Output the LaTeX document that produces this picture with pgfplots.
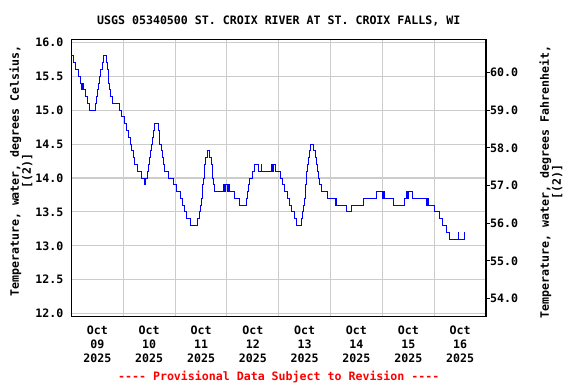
\documentclass[border=0pt]{standalone}
\usepackage{pgfplots}
\pgfplotsset{compat=1.18}
\usepackage{fontspec}
\setmainfont{DejaVu Sans Mono}[Ligatures=TeXOff]
\newcommand{\uf}{\fontsize{11.6}{12}\selectfont\bfseries}
\newcommand{\ufx}{\fontsize{11.6}{14}\selectfont\bfseries}
\begin{document}
\begin{tikzpicture}
\useasboundingbox (0pt,0pt) rectangle (576pt,384pt);
\begin{axis}[
  at={(71.5pt,67.3pt)}, anchor=south west,
  scale only axis, width=414.5pt, height=277.4pt,
  xmin=0, xmax=8, ymin=11.955, ymax=16.045,
  axis line style={line width=1.4pt},
  xtick={0.5,1.5,2.5,3.5,4.5,5.5,6.5,7.5},
  xticklabels={{Oct\\09\\2025},{Oct\\10\\2025},{Oct\\11\\2025},{Oct\\12\\2025},{Oct\\13\\2025},{Oct\\14\\2025},{Oct\\15\\2025},{Oct\\16\\2025}},
  minor xtick={1,2,3,4,5,6,7},
  xmajorgrids=false, xminorgrids=true, ymajorgrids=true,
  ytick={12,12.5,...,16},
  grid style={black!20, line width=1.1pt},
  minor grid style={black!20, line width=1.1pt},
  major tick length=0pt, minor tick length=0pt,
  tick style={draw=none},
  ticklabel style={font=\uf},
  /pgf/number format/assume math mode=true,
  /pgf/number format/fixed, /pgf/number format/fixed zerofill, /pgf/number format/precision=1,
  yticklabel style={anchor=east, inner sep=0pt, xshift=-8pt},
  xticklabel style={font=\ufx, align=center, anchor=north, inner sep=0pt, yshift=-9pt},
  ylabel={Temperature, water, degrees Celsius,\\{[(2)]}},
  ylabel style={font=\uf, align=center, at={(axis description cs:0,0.525)}, anchor=center, yshift=50.5pt},
  xlabel={-{}-{}-{}- Provisional Data Subject to Revision -{}-{}-{}-},
  xlabel style={font=\uf, text=red, at={(axis description cs:0.5,0)}, anchor=base, inner sep=0pt, yshift=-63.3pt},
  title={USGS 05340500 ST. CROIX RIVER AT ST. CROIX FALLS, WI},
  title style={font=\uf, at={(0.5,1)}, anchor=base, yshift=9.3pt},
  clip=true,
]
\addplot[const plot, color=blue, line width=1pt] coordinates {
(0,15.8) (0.03,15.7) (0.077,15.6) (0.135,15.5) (0.174,15.4) (0.200,15.3) (0.21,15.4) (0.225,15.3)
(0.27,15.2) (0.309,15.1) (0.347,15.0) (0.456,15.1) (0.483,15.2) (0.502,15.3) (0.527,15.4) (0.546,15.5)
(0.566,15.6) (0.598,15.7) (0.61,15.8) (0.668,15.7) (0.687,15.6) (0.707,15.5) (0.72,15.4) (0.739,15.3)
(0.753,15.2) (0.784,15.1) (0.919,15.0) (0.971,14.9) (1.029,14.8) (1.068,14.7) (1.10,14.6) (1.13,14.5)
(1.16,14.4) (1.19,14.3) (1.225,14.2) (1.27,14.1) (1.357,14.0) (1.40,13.9) (1.435,14.0) (1.46,14.1)
(1.48,14.2) (1.51,14.3) (1.53,14.4) (1.55,14.5) (1.565,14.6) (1.58,14.7) (1.595,14.8) (1.672,14.7)
(1.69,14.6) (1.705,14.5) (1.73,14.4) (1.75,14.3) (1.77,14.2) (1.788,14.1) (1.865,14.0) (1.968,13.9)
(2.032,13.8) (2.096,13.7) (2.14,13.6) (2.19,13.5) (2.224,13.4) (2.29,13.3) (2.43,13.4) (2.466,13.5)
(2.49,13.6) (2.518,13.7) (2.53,13.8) (2.537,13.9) (2.543,14.0) (2.562,14.1) (2.575,14.2) (2.594,14.3)
(2.62,14.4) (2.671,14.3) (2.696,14.2) (2.722,14.1) (2.73,14.0) (2.735,13.9) (2.754,13.8) (2.93,13.9)
(2.955,13.8) (2.975,13.9) (3.005,13.8) (3.025,13.9) (3.055,13.8)
(3.15,13.7) (3.246,13.6) (3.374,13.7) (3.406,13.8) (3.42,13.9) (3.438,14.0) (3.502,14.1)
(3.534,14.2) (3.617,14.1) (3.66,14.2) (3.67,14.1) (3.853,14.2) (3.875,14.1) (3.895,14.2) (3.935,14.1)
(4.03,14.0) (4.077,13.9) (4.11,13.8) (4.174,13.7) (4.206,13.6) (4.245,13.5)
(4.31,13.4) (4.348,13.3) (4.445,13.4) (4.465,13.5) (4.48,13.6) (4.49,13.7) (4.516,13.8) (4.52,13.9)
(4.529,14.0) (4.54,14.1) (4.548,14.2) (4.568,14.3) (4.587,14.4) (4.619,14.5) (4.677,14.4) (4.703,14.3)
(4.723,14.2) (4.748,14.1) (4.774,14.0) (4.794,13.9) (4.819,13.8) (4.948,13.7) (5.09,13.6) (5.105,13.7)
(5.12,13.6) (5.31,13.5) (5.41,13.6) (5.63,13.7) (5.89,13.8) (6.01,13.7) (6.025,13.8) (6.045,13.7)
(6.21,13.6) (6.43,13.7) (6.47,13.8) (6.485,13.7) (6.505,13.8) (6.58,13.7)
(6.85,13.6) (6.865,13.7) (6.885,13.6) (7.0,13.5) (7.1,13.4) (7.17,13.3) (7.24,13.2) (7.30,13.1)
(7.46,13.2) (7.465,13.1) (7.58,13.2)
};
\end{axis}
\begin{axis}[
  at={(71.5pt,67.3pt)}, anchor=south west,
  scale only axis, width=414.5pt, height=277.4pt,
  xmin=0, xmax=8, ymin=53.519, ymax=60.881,
  axis x line=none, axis y line*=right,
  axis line style={line width=1.4pt, -},
  ytick={54,55,...,60},
  tick align=outside, major tick length=4pt,
  ytick style={line width=1pt, black},
  ticklabel style={font=\uf},
  /pgf/number format/assume math mode=true,
  /pgf/number format/fixed, /pgf/number format/fixed zerofill, /pgf/number format/precision=1,
  yticklabel style={anchor=west, inner sep=0pt},
  ylabel={Temperature, water, degrees Fahrenheit,\\{[(2)]}},
  ylabel style={font=\uf, align=center, at={(axis description cs:1,0.486)}, anchor=center, yshift=-65pt},
]
\addplot[draw=none] coordinates {(0,55)};
\end{axis}
\end{tikzpicture}
\end{document}
